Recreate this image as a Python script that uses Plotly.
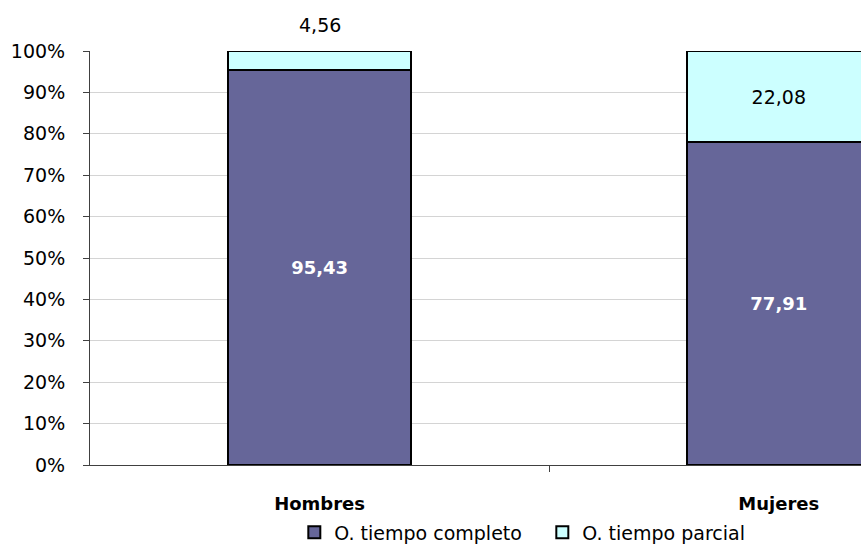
import plotly.graph_objects as go

categories = ["Hombres", "Mujeres"]
completo = [95.43, 77.91]
parcial = [4.56, 22.08]
series_names = ["O. tiempo completo", "O. tiempo parcial"]
y_ticks = [0, 10, 20, 30, 40, 50, 60, 70, 80, 90, 100]

FONT = "DejaVu Sans, Arial, sans-serif"
xpos = list(range(len(categories)))

def fmt(v):
    return f"{v:.2f}".replace(".", ",")

fig = go.Figure()
fig.add_trace(go.Bar(
    x=xpos, y=completo, name=series_names[0], width=0.398,
    marker=dict(color="#666699", line=dict(color="#000000", width=2)),
    texttemplate="%{y:.2f}", textposition="inside", insidetextanchor="middle",
    textfont=dict(family=FONT, size=18, color="white", weight="bold"),
))
parcial_text = [fmt(v) if v > 10 else "" for v in parcial]
fig.add_trace(go.Bar(
    x=xpos, y=parcial, name=series_names[1], width=0.398,
    marker=dict(color="#CCFFFF", line=dict(color="#000000", width=2)),
    text=parcial_text, textposition="inside", insidetextanchor="middle",
    textfont=dict(family=FONT, size=19, color="black"),
))
for i, v in enumerate(parcial):
    if v <= 10:
        fig.add_annotation(x=xpos[i], y=completo[i] + v, text=fmt(v),
                           showarrow=False, yanchor="middle", yshift=26,
                           font=dict(family=FONT, size=19, color="black"))

fig.update_layout(
    barmode="stack",
    separators=",.",
    width=861, height=544,
    margin=dict(l=90, r=0, t=51, b=79, autoexpand=False),
    paper_bgcolor="white", plot_bgcolor="white",
    font=dict(family=FONT, size=19, color="black"),
    showlegend=True,
    legend=dict(orientation="h", x=0.265, xanchor="left", y=-0.163, yanchor="middle",
                font=dict(family=FONT, size=19, color="black"),
                traceorder="normal", itemwidth=30, entrywidth=203, entrywidthmode="pixels",
                bgcolor="rgba(0,0,0,0)"),
    xaxis=dict(
        range=[-0.5, 1.179], tickmode="array", tickvals=xpos, ticktext=categories,
        ticks="", showgrid=False, zeroline=False, automargin=False,
        showline=True, linecolor="#404040", linewidth=1,
        tickfont=dict(family=FONT, size=18, color="black", weight="bold"),
        ticklabelstandoff=22,
        minor=dict(tickmode="array", tickvals=[0.5], ticks="outside", ticklen=6,
                   tickcolor="#404040", tickwidth=1, showgrid=False),
    ),
    yaxis=dict(
        range=[0, 100], tickmode="array", tickvals=y_ticks,
        ticktext=[f"{t}%" for t in y_ticks], automargin=False,
        ticks="outside", ticklen=6, tickcolor="#404040", tickwidth=1,
        showline=True, linecolor="#404040", linewidth=1,
        showgrid=True, gridcolor="#d4d4d4", gridwidth=1, zeroline=False,
        tickfont=dict(family=FONT, size=19, color="black"),
        ticklabelstandoff=14,
    ),
)

fig.write_html("out.html", config={"displayModeBar": False},
               post_script="document.body.style.margin='0px';")
